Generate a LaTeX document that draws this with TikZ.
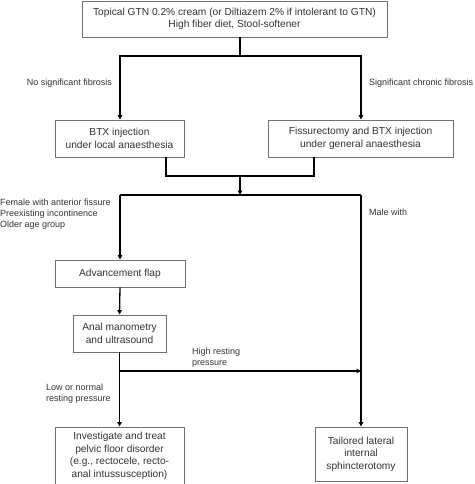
\documentclass[tikz,border=0pt]{standalone}
\usepackage{fontspec}
\setmainfont{Liberation Sans}
\usetikzlibrary{arrows.meta}
\definecolor{boxgray}{HTML}{707070}
\definecolor{textgray}{HTML}{333333}
\begin{document}
\begin{tikzpicture}[x=1pt,y=-1pt,
  box/.style={draw=boxgray, line width=0.9pt, fill=white, align=center, inner sep=0pt,
    text=textgray, font=\fontsize{10.2}{12.5}\selectfont},
  lbl/.style={inner sep=0pt, text=textgray, font=\fontsize{9}{10.8}\selectfont},
  conn/.style={line width=1.3pt, black},
  arr/.style={conn, -{Triangle[length=4.5pt,width=4.5pt]}}]
\useasboundingbox (0,0) rectangle (474,484);
% boxes
\node[box, minimum width=305pt, minimum height=36pt] (top) at (234.5,19)
  {Topical GTN 0.2\% cream (or Diltiazem 2\% if intolerant to GTN)\\High fiber diet, Stool-softener};
\node[box, minimum width=129pt, minimum height=37pt] (btx) at (119.5,138.5)
  {BTX injection\\under local anaesthesia};
\node[box, minimum width=185pt, minimum height=37pt] (fiss) at (360.5,138.5)
  {Fissurectomy and BTX injection\\under general anaesthesia};
\node[box, minimum width=130pt, minimum height=27pt] (adv) at (120,273.5)
  {Advancement flap};
\node[box, minimum width=93pt, minimum height=37pt] (anal) at (119.5,333.5)
  {Anal manometry\\and ultrasound};
\node[box, minimum width=129pt, minimum height=58pt] (inv) at (119.5,456)
  {Investigate and treat\\pelvic floor disorder\\(e.g., rectocele, recto-\\anal intussusception)};
\node[box, minimum width=92pt, minimum height=54pt] (tail) at (361,454)
  {Tailored lateral\\internal\\sphincterotomy};
% junction coordinates
\coordinate (j1) at (240,56);
\coordinate (j1l) at (120,56);
\coordinate (j1r) at (361,56);
\coordinate (j2) at (240,176);
\coordinate (j2l) at (166,176);
\coordinate (j2r) at (314,176);
\coordinate (j3) at (240,195);
\coordinate (j3l) at (120,195);
\coordinate (j3r) at (361,195);
\coordinate (j4) at (120,371);
\coordinate (j4r) at (361,371);
% connectors
\draw[conn] (top.south -| j1) -- (j1);
\draw[arr] (j1) -- (j1l) -- (btx.north -| j1l);
\draw[arr] (j1) -- (j1r) -- (fiss.north -| j1r);
\draw[conn] (btx.south -| j2l) -- (j2l) -- (j2r) -- (fiss.south -| j2r);
\draw[arr] (j2) -- (j3);
\draw[conn] (j3l) -- (j3r);
\draw[arr] (j3l) -- (adv.north);
\draw[arr] (adv.south) -- (anal.north);
\draw[arr] (anal.south) -- (inv.north);
\draw[arr] (j4) -- (j4r);
\draw[arr] (j3r) -- (tail.north -| j3r);
% labels
\node[lbl, anchor=east] (l1) at (112,83) {No significant fibrosis};
\node[lbl, anchor=west] (l2) at (369,83) {Significant chronic fibrosis};
\node[lbl, anchor=west, align=left] (l3) at (0,214) {Female with anterior fissure\\Preexisting incontinence\\Older age group};
\node[lbl, anchor=west] (l4) at (369,212) {Male with};
\node[lbl, anchor=west, align=left] (l5) at (192,357.5) {High resting\\pressure};
\node[lbl, anchor=west, align=left] (l6) at (46,394) {Low or normal\\resting pressure};
\end{tikzpicture}
\end{document}
